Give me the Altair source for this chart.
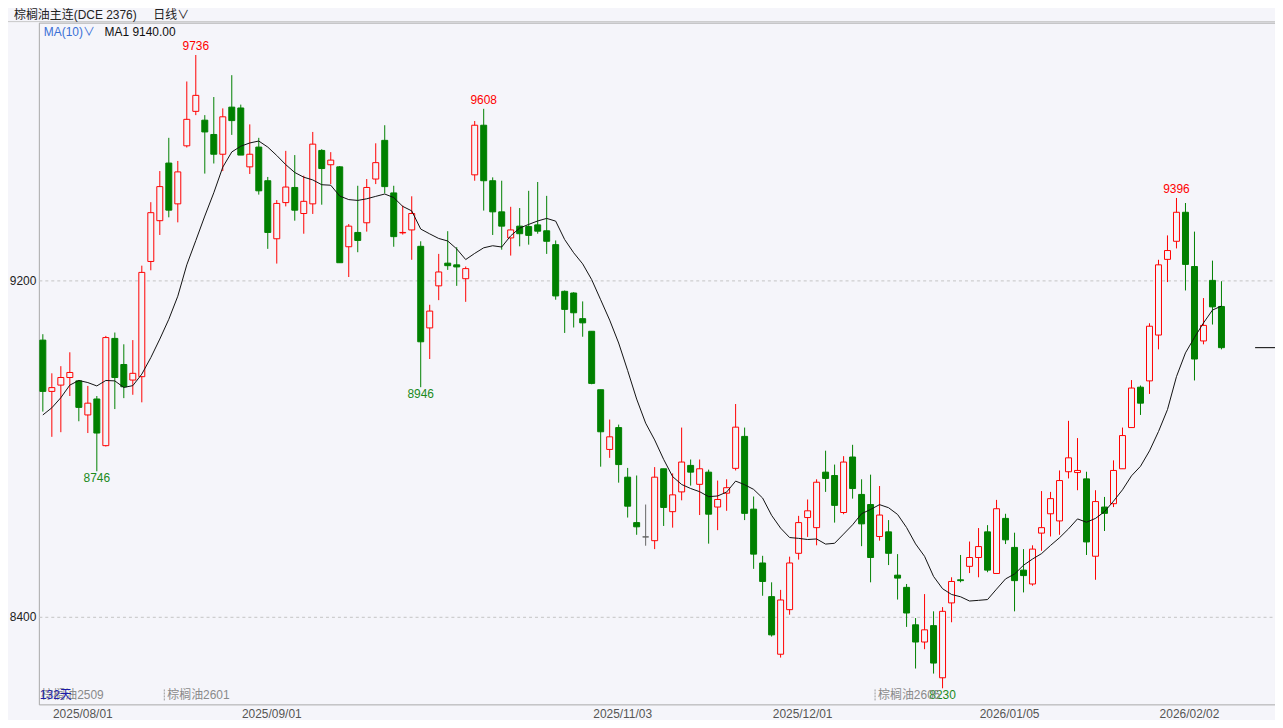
import altair as alt
import pandas as pd

# ---- data (daily candles, 2025-07-25 .. 2026-02-05, 132 bars) ----
opens = [9058, 8936, 8951, 8969, 8961, 8880, 8918, 8807, 9062, 9000,
         8963, 8971, 9245, 9342, 9479, 9382, 9520, 9602, 9581, 9547,
         9500, 9612, 9610, 9470, 9517, 9437, 9299, 9385, 9421, 9359,
         9382, 9509, 9475, 9470, 9280, 9314, 9337, 9441, 9533, 9408,
         9313, 9320, 9281, 9087, 9187, 9241, 9237, 9204, 9451, 9569,
         9437, 9363, 9301, 9329, 9328, 9332, 9318, 9285, 9174, 9170,
         9109, 9079, 8940, 8798, 8850, 8732, 8624, 8590, 8581, 8752,
         8650, 8697, 8760, 8715, 8744, 8661, 8694, 8753, 8829, 8656,
         8528, 8448, 8311, 8417, 8551, 8636, 8612, 8744, 8736, 8648,
         8780, 8691, 8667, 8591, 8602, 8499, 8470, 8381, 8340, 8379,
         8255, 8433, 8488, 8520, 8541, 8602, 8503, 8634, 8565, 8511,
         8478, 8599, 8645, 8628, 8745, 8743, 8728, 8544, 8661, 8669,
         8752, 8850, 8946, 8961, 9070, 9250, 9293, 9362, 9233, 9056,
         9200, 9138]
highs = [9072, 8979, 8996, 9029, 8963, 8949, 8925, 9068, 9076, 9048,
         9058, 9235, 9386, 9460, 9539, 9484, 9673, 9736, 9593, 9636,
         9609, 9688, 9618, 9571, 9539, 9446, 9391, 9508, 9498, 9449,
         9553, 9512, 9505, 9472, 9334, 9425, 9441, 9526, 9569, 9425,
         9378, 9400, 9293, 9142, 9263, 9317, 9279, 9233, 9579, 9608,
         9445, 9437, 9375, 9372, 9413, 9434, 9401, 9295, 9176, 9172,
         9150, 9079, 8940, 8869, 8857, 8754, 8736, 8667, 8756, 8752,
         8741, 8850, 8774, 8774, 8750, 8724, 8727, 8906, 8850, 8686,
         8545, 8482, 8464, 8543, 8640, 8679, 8727, 8795, 8762, 8782,
         8809, 8727, 8738, 8711, 8630, 8549, 8478, 8397, 8454, 8413,
         8423, 8494, 8547, 8579, 8611, 8618, 8678, 8645, 8600, 8561,
         8570, 8699, 8697, 8748, 8866, 8825, 8745, 8701, 8685, 8772,
         8850, 8963, 8950, 9098, 9249, 9307, 9396, 9384, 9316, 9158,
         9247, 9198]
lows = [8888, 8828, 8839, 8925, 8865, 8837, 8746, 8805, 8894, 8920,
        8928, 8910, 9224, 9308, 9350, 9338, 9516, 9593, 9454, 9478,
        9460, 9546, 9498, 9453, 9404, 9275, 9240, 9376, 9342, 9311,
        9358, 9380, 9429, 9242, 9208, 9267, 9316, 9429, 9407, 9280,
        9309, 9249, 8946, 9013, 9153, 9225, 9187, 9149, 9437, 9366,
        9308, 9273, 9259, 9281, 9285, 9311, 9263, 9154, 9075, 9088,
        9066, 8953, 8757, 8778, 8719, 8636, 8595, 8569, 8561, 8616,
        8612, 8677, 8712, 8642, 8574, 8606, 8652, 8748, 8630, 8514,
        8450, 8353, 8303, 8405, 8536, 8590, 8570, 8697, 8624, 8644,
        8681, 8568, 8482, 8581, 8523, 8441, 8376, 8277, 8323, 8265,
        8230, 8387, 8482, 8504, 8494, 8506, 8502, 8573, 8413, 8458,
        8474, 8557, 8591, 8595, 8729, 8701, 8547, 8488, 8604, 8661,
        8752, 8850, 8880, 8930, 9036, 9196, 9276, 9176, 8962, 9048,
        9095, 9036]
closes = [8936, 8945, 8969, 8981, 8898, 8908, 8837, 9064, 8969, 8947,
          8979, 9219, 9361, 9423, 9367, 9458, 9583, 9640, 9553, 9500,
          9589, 9580, 9498, 9500, 9413, 9314, 9383, 9422, 9367, 9388,
          9524, 9466, 9486, 9242, 9329, 9295, 9421, 9480, 9423, 9304,
          9314, 9359, 9054, 9127, 9220, 9235, 9232, 9228, 9569, 9437,
          9363, 9329, 9320, 9311, 9307, 9317, 9293, 9163, 9131, 9123,
          9099, 8955, 8840, 8828, 8762, 8663, 8614, 8590, 8732, 8660,
          8690, 8768, 8744, 8752, 8644, 8679, 8707, 8851, 8646, 8549,
          8484, 8357, 8440, 8528, 8624, 8652, 8720, 8729, 8665, 8768,
          8705, 8621, 8541, 8642, 8551, 8492, 8409, 8340, 8369, 8290,
          8413, 8484, 8486, 8541, 8567, 8511, 8657, 8583, 8486, 8498,
          8561, 8612, 8681, 8724, 8778, 8748, 8578, 8674, 8646, 8748,
          8831, 8944, 8908, 9091, 9237, 9271, 9362, 9238, 9013, 9093,
          9137, 9040]
# MA(10) values of the first nine bars (need history before the window)
ma_first9 = [8880, 8897, 8921, 8951, 8962, 8957, 8949, 8962, 8961]

date_idx = [5, 26, 65, 85, 108, 128]
date_labels = ["2025/08/01", "2025/09/01", "2025/11/03", "2025/12/01", "2026/01/05", "2026/02/02"]

peak_idx = [17, 49, 126]
peak_vals = [9736, 9608, 9396]
trough_idx = [6, 42, 100]
trough_vals = [8746, 8946, 8230]

contract_idx = [0, 14, 93]
contract_names = ["棕榈油2509", "棕榈油2601", "棕榈油2605"]

# ---- build tables ----
n = len(closes)
df = pd.DataFrame({"i": list(range(n)), "open": opens, "high": highs, "low": lows, "close": closes})
df["dir"] = ["up" if c > o else ("down" if c < o else "flat") for o, c in zip(opens, closes)]
ma = pd.Series(closes).rolling(10).mean().tolist()
ma[:9] = ma_first9
df["ma"] = ma

dates_df = pd.DataFrame({"i": date_idx, "label": date_labels})
peaks_df = pd.DataFrame({"i": peak_idx, "v": peak_vals, "t": [str(v) for v in peak_vals]})
troughs_df = pd.DataFrame({"i": trough_idx, "v": trough_vals, "t": [str(v) for v in trough_vals]})
contracts_df = pd.DataFrame({"i": [c - 0.5 for c in contract_idx], "name": contract_names})
last_df = pd.DataFrame({"v": [closes[-1]]})

W, H = 1242, 685
BG = "#f5f5fa"
RED = "#ff0000"
GREEN = "#008000"
FONT = "Liberation Sans, Noto Sans CJK SC"

xs = alt.Scale(domain=[-0.4425, 136.95], nice=False, zero=False, padding=0)
ys = alt.Scale(domain=[8191.7, 9813], nice=False, zero=False, padding=0)
X = alt.X("i:Q", scale=xs, axis=None)

Y_AXIS = alt.Axis(
    values=[8400, 9200], format="d", grid=True, gridDash=[3, 3], gridColor="#c4c4c4",
    ticks=False, domain=False, labelPadding=3, labelFontSize=12,
    labelColor="#222222", labelFont=FONT, title=None)


def Y(field):
    return alt.Y(field, scale=ys, axis=Y_AXIS)


dir_dom = ["up", "down", "flat"]

base = alt.Chart(df)

wicks = base.mark_rule(strokeWidth=1).encode(
    x=X,
    y=Y("low:Q"),
    y2="high:Q",
    color=alt.Color("dir:N", scale=alt.Scale(domain=dir_dom, range=[RED, GREEN, "#666666"]), legend=None),
)

bodies = base.mark_bar(size=6, strokeWidth=1).encode(
    x=X,
    y=Y("open:Q"),
    y2="close:Q",
    fill=alt.Fill("dir:N", scale=alt.Scale(domain=dir_dom, range=[BG, GREEN, "#666666"]), legend=None),
    stroke=alt.Stroke("dir:N", scale=alt.Scale(domain=dir_dom, range=[RED, GREEN, "#666666"]), legend=None),
)

ma_line = base.mark_line(color="#111111", strokeWidth=1).encode(x=X, y=Y("ma:Q"))

peak_txt = alt.Chart(peaks_df).mark_text(
    color=RED, fontSize=12, font=FONT, baseline="bottom", dy=-2
).encode(x=X, y=Y("v:Q"), text="t:N")

trough_txt = alt.Chart(troughs_df).mark_text(
    color="#1a8a1a", fontSize=12, font=FONT, baseline="top", dy=2
).encode(x=X, y=Y("v:Q"), text="t:N")

date_txt = alt.Chart(dates_df).mark_text(
    color="#555555", fontSize=12, font=FONT, baseline="middle", dx=-5
).encode(x=X, y=alt.value(H + 10), text="label:N")

contract_txt = alt.Chart(contracts_df).mark_text(
    color="#8a8a8a", fontSize=12, font=FONT, align="left", baseline="middle", dx=3
).encode(x=X, y=alt.value(H - 9), text="name:N")

contract_tick = alt.Chart(contracts_df[contracts_df["i"] > 0]).mark_rule(
    color="#999999", strokeDash=[2, 1]
).encode(x=X, y=alt.value(H - 15), y2=alt.value(H - 3))

last_mark = alt.Chart(last_df).mark_rule(color="#000000", strokeWidth=1).encode(
    x=alt.value(W - 20), x2=alt.value(W), y=Y("v:Q")
)

one = pd.DataFrame({"k": [0]})


def label(text, x, y, color):
    return alt.Chart(one).mark_text(
        fontSize=12, font=FONT, align="left", baseline="middle", color=color
    ).encode(x=alt.value(x), y=alt.value(y), text=alt.value(text))


header_line = alt.Chart(one).mark_rule(color="#c8c8c8").encode(
    x=alt.value(-31), x2=alt.value(W), y=alt.value(-1)
)

info_layers = [
    label("棕榈油主连(DCE 2376)", -25, -8, "#222222"),
    label("日线∨", 115, -8, "#222222"),
    label("MA(10)∨", 5, 9, "#3a6fd6"),
    label("MA1 9140.00", 66, 9, "#111111"),
    label("132天", 1, H - 9, "#1c1ca8"),
]

chart = alt.layer(
    header_line, wicks, bodies, ma_line, peak_txt, trough_txt, date_txt,
    contract_tick, contract_txt, last_mark, *info_layers
).properties(
    width=W, height=H,
    autosize=alt.AutoSizeParams(type="none"),
    padding={"left": 31, "top": 13, "right": 0, "bottom": 14},
    background=BG,
).configure_view(
    stroke="#a8a8a8", strokeWidth=1
)

chart.save("out.html", embed_options={"renderer": "svg", "actions": False})
